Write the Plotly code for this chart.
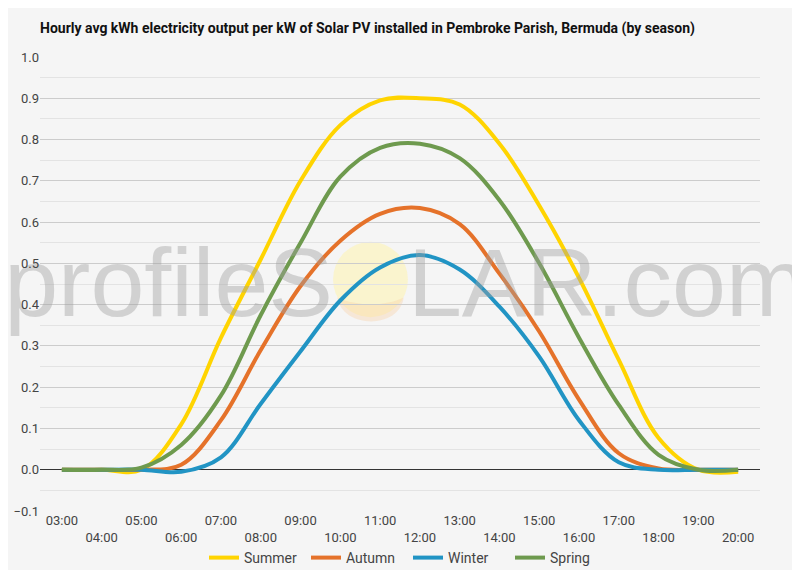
import plotly.graph_objs as go

# hours of the day shown on the category axis
hours = ["03:00", "04:00", "05:00", "06:00", "07:00", "08:00", "09:00", "10:00", "11:00",
         "12:00", "13:00", "14:00", "15:00", "16:00", "17:00", "18:00", "19:00", "20:00"]

# avg kWh per kW installed
summer = [0, 0, 0.0, 0.11, 0.32, 0.51, 0.70, 0.835, 0.895, 0.90, 0.885, 0.79, 0.64, 0.465,
          0.266, 0.077, 0.0, -0.005]
autumn = [0, 0, 0, 0.012, 0.12, 0.29, 0.445, 0.555, 0.62, 0.634, 0.595, 0.475, 0.335, 0.17,
          0.04, 0.003, 0, 0]
winter = [0, 0, 0, -0.005, 0.03, 0.16, 0.287, 0.41, 0.49, 0.52, 0.485, 0.395, 0.274, 0.12,
          0.018, 0, 0, 0]
spring = [0, 0, 0.005, 0.06, 0.18, 0.375, 0.55, 0.71, 0.78, 0.79, 0.755, 0.653, 0.50, 0.32,
          0.157, 0.036, 0, 0]

seasons = ["Summer", "Autumn", "Winter", "Spring"]
colors = ["#FFD400", "#E5722A", "#2194C4", "#6E9A4E"]

# every other label pushed to a second row, like the original
tick_text = [h if i % 2 == 0 else "<br>" + h for i, h in enumerate(hours)]

FONT = "Roboto"
# the page body adds an 8px margin, so the figure is drawn 8px smaller
W, H = 792, 562

fig = go.Figure()

# watermark text, drawn first so the lines sit on top of it
wm_font = dict(family="Liberation Sans", size=97, color="rgba(160,160,160,0.42)")
fig.add_trace(go.Scatter(
    x=[0.407], y=[0.484], mode="text", text=["profileS"], textposition="middle left",
    textfont=wm_font, xaxis="x2", yaxis="y2", cliponaxis=False,
    showlegend=False, hoverinfo="skip",
))
fig.add_trace(go.Scatter(
    x=[0.511], y=[0.484], mode="text", text=["LAR.com"], textposition="middle right",
    textfont=wm_font, xaxis="x2", yaxis="y2", cliponaxis=False,
    showlegend=False, hoverinfo="skip",
))

for name, vals, col in zip(seasons, [summer, autumn, winter, spring], colors):
    fig.add_trace(go.Scatter(
        x=hours, y=vals, name=name, mode="lines",
        line=dict(color=col, width=4, shape="spline", smoothing=1),
    ))

# the sun in place of the "O"
fig.add_shape(type="circle", xref="x2", yref="y2", layer="below",
              x0=0.407, x1=0.511, y0=0.427, y1=0.593,
              fillcolor="rgba(253,243,180,0.6)", line=dict(width=0))
fig.add_shape(type="path", xref="x2", yref="y2", layer="below",
              path="M 0.413,0.47 C 0.42,0.40 0.50,0.40 0.505,0.47 C 0.48,0.45 0.44,0.45 0.413,0.47 Z",
              fillcolor="rgba(250,205,160,0.35)", line=dict(width=0))

fig.update_layout(
    width=W, height=H,
    margin=dict(l=32, r=40, t=49, b=59, autoexpand=False),
    paper_bgcolor="#f5f5f5", plot_bgcolor="#f5f5f5",
    font=dict(family=FONT, size=13, color="#444"),
    title=dict(
        text="<b>Hourly avg kWh electricity output per kW of Solar PV installed in Pembroke Parish, Bermuda (by season)</b>",
        x=32 / W, xanchor="left", xref="container",
        y=1 - 20 / H, yanchor="middle", yref="container",
        font=dict(family=FONT, size=14, color="#111"),
    ),
    xaxis=dict(
        type="category", range=[-0.55, 17.55], automargin=False,
        tickmode="array", tickvals=hours, ticktext=tick_text,
        showgrid=False, ticks="", tickfont=dict(size=13, color="#444"),
        fixedrange=True,
    ),
    yaxis=dict(
        range=[-0.1, 1.0], dtick=0.1, tickformat=".1f", automargin=False,
        gridcolor="#cccccc", gridwidth=1,
        minor=dict(dtick=0.05, showgrid=True, gridcolor="#e3e3e3"),
        zeroline=True, zerolinecolor="#333", zerolinewidth=1,
        showline=False, ticks="", tickfont=dict(size=13, color="#444"),
    ),
    xaxis2=dict(overlaying="x", range=[0, 1], visible=False),
    yaxis2=dict(overlaying="y", range=[0, 1], visible=False),
    legend=dict(
        orientation="h", x=0.5 + 4 / W, xanchor="center", xref="container",
        y=12 / H, yanchor="middle", yref="container",
        font=dict(size=14, color="#444"), bgcolor="rgba(0,0,0,0)",
        entrywidth=57,
    ),
    showlegend=True,
)

fig.write_html("out.html")
